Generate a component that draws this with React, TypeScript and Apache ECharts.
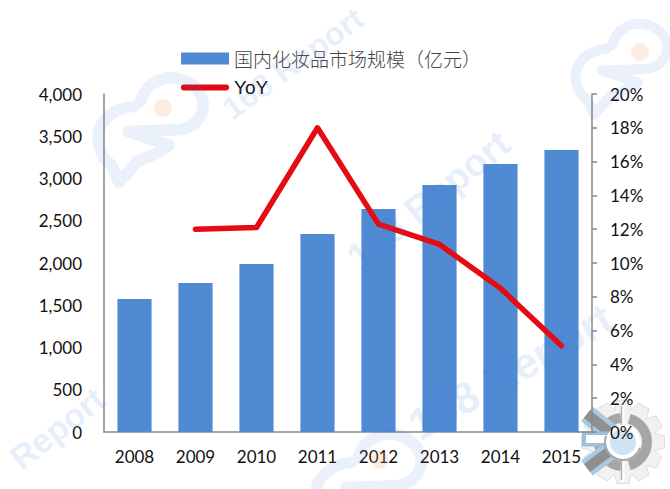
import React, { useEffect, useRef } from "react";
import * as echarts from "echarts";

const categories = ["2008", "2009", "2010", "2011", "2012", "2013", "2014", "2015"];
const marketSize = [1574, 1763, 1988, 2343, 2639, 2923, 3172, 3337];
const yoy = [null, 12.0, 12.1, 18.0, 12.3, 11.1, 8.5, 5.1];
const barName = "国内化妆品市场规模（亿元）";
const lineName = "YoY";
const watermarkFull = "168 Report";
const watermarkPart = "Report";

const bubble =
  "M100 75C40 80 5 120 8 160C10 192 25 215 42 225L62 270L110 215C140 205 170 192 190 175L85 140L220 135C265 125 285 90 275 55C260 10 200 -10 160 10C135 22 120 45 115 65";

const gearPath = (() => {
  const pts: string[] = [];
  const n = 12;
  const p = (r: number, t: number) => `${(r * Math.cos(t)).toFixed(1)} ${(r * Math.sin(t)).toFixed(1)}`;
  for (let i = 0; i < n; i++) {
    const a = (i / n) * Math.PI * 2;
    const s = Math.PI / n;
    pts.push((i ? "L" : "M") + p(33, a - s), "L" + p(42, a - s * 0.55), "L" + p(42, a + s * 0.55), "L" + p(33, a + s));
  }
  return pts.join(" ") + " Z";
})();

echarts.graphic.registerShape("bubbleMark", echarts.graphic.extendPath(bubble, {}) as any);
echarts.graphic.registerShape("gearMark", echarts.graphic.extendPath(gearPath, {}) as any);

const wmFill = "rgba(70,130,215,0.14)";
const wmText = (text: string, x: number, y: number, size: number, deg: number) => ({
  type: "text", x, y, rotation: (deg * Math.PI) / 180, z: 50, silent: true,
  style: { text, fill: wmFill, font: `bold ${size}px "Liberation Sans Narrow", "Liberation Sans", sans-serif`, textAlign: "left", textVerticalAlign: "middle" },
});
const wmLogo = (x: number, y: number, s: number, dotX: number, dotY: number) => [
  {
    type: "bubbleMark", x, y, scaleX: s, scaleY: s, z: 50, silent: true,
    style: { fill: "none", stroke: "rgba(70,130,215,0.11)", lineWidth: 30, lineJoin: "round", lineCap: "round" },
  },
  { type: "circle", shape: { cx: dotX, cy: dotY, r: 9 }, z: 50, silent: true, style: { fill: "rgba(255,170,120,0.22)" } },
];

const gx = 623;
const gy = 442;
const gearLine = (x1: number, y1: number, x2: number, y2: number, color: string, w: number, z: number) => ({
  type: "line", z, silent: true,
  shape: { x1: gx + x1, y1: gy + y1, x2: gx + x2, y2: gy + y2 },
  style: { stroke: color, lineWidth: w },
});
const gearRing = (from: number, to: number, z: number) => ({
  type: "sector", z, silent: true,
  shape: { cx: gx, cy: gy, r: 29, r0: 19, startAngle: (from * Math.PI) / 180, endAngle: (to * Math.PI) / 180 },
  style: { fill: "#a6a6a6" },
});
const gearParts = [
  { type: "gearMark", x: gx, y: gy, z: -5, silent: true, style: { fill: "#f1f1f1", stroke: "#dedede", lineWidth: 1 } },
  gearRing(-75, 75, -4),
  gearRing(180, 265, -4),
  gearRing(95, 180, -4),
  gearLine(-36, -28, -4, -2, "#a9c9e2", 19, -3),
  gearLine(-36, -28, -4, -2, "#8f8f8f", 10, -2),
  gearLine(-36, 26, -4, 2, "#a9c9e2", 19, -3),
  gearLine(-36, 26, -4, 2, "#8f8f8f", 10, -2),
  gearLine(-41, -3, -10, -3, "#9cc0dc", 15, -2),
  gearLine(-37, -3, -10, -3, "#ffffff", 8, -1),
  gearLine(0, -40, 0, 40, "#ffffff", 3, -1),
  gearLine(-1.5, -36, -1.5, 38, "#b5b5b5", 1.5, -1),
  { type: "circle", z: -1, silent: true, shape: { cx: gx, cy: gy, r: 15 }, style: { fill: "#cfe3f5", stroke: "#ffffff", lineWidth: 4 } },
  {
    type: "arc", z: -1, silent: true,
    shape: { cx: gx, cy: gy, r: 18, startAngle: (20 * Math.PI) / 180, endAngle: (200 * Math.PI) / 180 },
    style: { stroke: "#a6a6a6", lineWidth: 2, fill: "none" },
  },
];

export default function App() {
  const ref = useRef<HTMLDivElement>(null);
  useEffect(() => {
    const chart = echarts.init(ref.current!, null, { renderer: "svg" });
    const tickFont = { fontFamily: "Lato", fontSize: 17, color: "#111" };
    chart.setOption({
      animation: false,
      backgroundColor: "#fff",
      grid: { left: 104, right: 78, top: 94, bottom: 57, containLabel: false },
      legend: {
        orient: "vertical", left: 181, top: 49, itemGap: 10, itemWidth: 48, itemHeight: 12, padding: 0,
        data: [
          { name: barName, icon: "rect", textStyle: { fontFamily: '"Noto Sans CJK SC"', fontSize: 19, fontWeight: 300, color: "#444" } },
          {
            name: lineName, icon: "path://M6 44H94A6 6 0 0 1 94 56H6A6 6 0 0 1 6 44Z", itemStyle: { color: "#df0a14" },
            textStyle: { fontFamily: '"Liberation Sans"', fontSize: 19, color: "#111" },
          },
        ],
      },
      xAxis: {
        type: "category", data: categories,
        axisLine: { lineStyle: { color: "#888", width: 1.5 } },
        axisTick: { show: false },
        axisLabel: { ...tickFont, margin: 16 },
      },
      yAxis: [
        {
          type: "value", min: 0, max: 4000, interval: 500,
          axisLine: { show: true, lineStyle: { color: "#888", width: 1.5 } },
          axisTick: { show: false }, splitLine: { show: false },
          axisLabel: { ...tickFont, margin: 22, formatter: (v: number) => v.toLocaleString("en-US") },
        },
        {
          type: "value", min: 0, max: 20, interval: 2, position: "right",
          axisLine: { show: true, lineStyle: { color: "#888", width: 1.5 } },
          axisTick: { show: true, length: 5, lineStyle: { color: "#888", width: 1.5 } },
          splitLine: { show: false },
          axisLabel: { ...tickFont, margin: 18, formatter: "{value}%" },
        },
      ],
      series: [
        { name: barName, type: "bar", data: marketSize, barWidth: "56%", itemStyle: { color: "#4f8ad3" } },
        {
          name: lineName, type: "line", yAxisIndex: 1, data: yoy, showSymbol: false, symbol: "none",
          lineStyle: { color: "#e60a12", width: 5.5, cap: "round", join: "round" }, itemStyle: { color: "#df0a14" }, z: 5,
        },
      ],
      graphic: [
        ...wmLogo(95, 77, 0.39, 163, 108),
        ...wmLogo(573, 23, 0.34, 640, 52),
        ...wmLogo(313, 433, 0.39, 380, 460),
        wmText(watermarkFull, 226, 112, 32, 36),
        wmText(watermarkFull, 352, 262, 38, 39),
        wmText(watermarkFull, 412, 428, 44, 30),
        wmText(watermarkPart, 14, 462, 34, 38),
        ...gearParts,
      ],
    });
    return () => chart.dispose();
  }, []);
  return <div ref={ref} style={{ position: "fixed", left: 0, top: 0, width: 670, height: 489 }} />;
}
